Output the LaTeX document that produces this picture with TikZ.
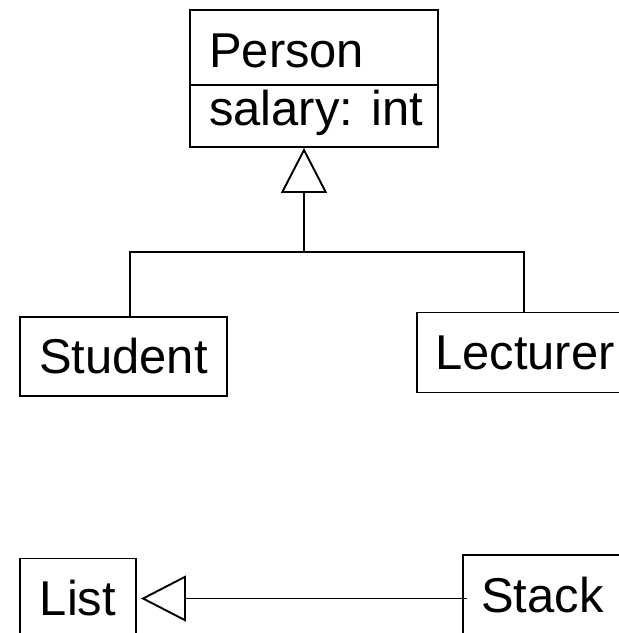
\documentclass[tikz,border=0pt]{standalone}
\usepackage{fontspec}
\setmainfont{Liberation Sans}
\usetikzlibrary{arrows.meta}
\begin{document}
\begin{tikzpicture}[x=1pt,y=-1pt,
  umlfont/.style={font=\fontsize{48.9}{58}\selectfont},
  classbox/.style={draw, rectangle, line width=1.9pt, inner sep=0pt, umlfont},
  caption/.style={inner sep=0pt, umlfont},
  link/.style={line width=1.9pt},
  inherit/.style={line width=1.9pt, -{Triangle[open, length=45pt, width=46pt]}}]
\useasboundingbox (0,0) rectangle (619,633);
\begin{scope}
\clip (0,0) rectangle (619,633);

% class Person with one attribute compartment
\node[classbox, minimum width=248pt, minimum height=137pt] (person) at (314,78.5) {};
\draw[link] (person.west |- 0,85) -- (person.east |- 0,85);
\node[caption, anchor=base west] (pname) at (209,67) {Person};
\node[caption, anchor=base west] (pattr) at (209,125) {salary: int};

% subclasses
\node[classbox, minimum width=207pt, minimum height=79pt] (student) at (123.5,356.5) {Student};
\node[classbox, minimum width=216pt, minimum height=80pt] (lecturer) at (525,352.5) {Lecturer};

% generalisation tree
\coordinate (hub) at (304,252);
\draw[link] ([xshift=6.5pt]student.north) |- (hub);
\draw[link] ([xshift=-1pt]lecturer.north) |- (hub);
\draw[inherit] (hub) -- (hub |- person.south);

% List <- Stack
\node[classbox, minimum width=116pt, minimum height=80pt] (list) at (78,598.5) {List};
\node[classbox, minimum width=159pt, minimum height=80pt] (stack) at (542.5,595) {Stack};
\draw[inherit, shorten >=4pt] ([xshift=5pt]stack.west |- list.east) -- (list.east);
\end{scope}
\end{tikzpicture}
\end{document}
